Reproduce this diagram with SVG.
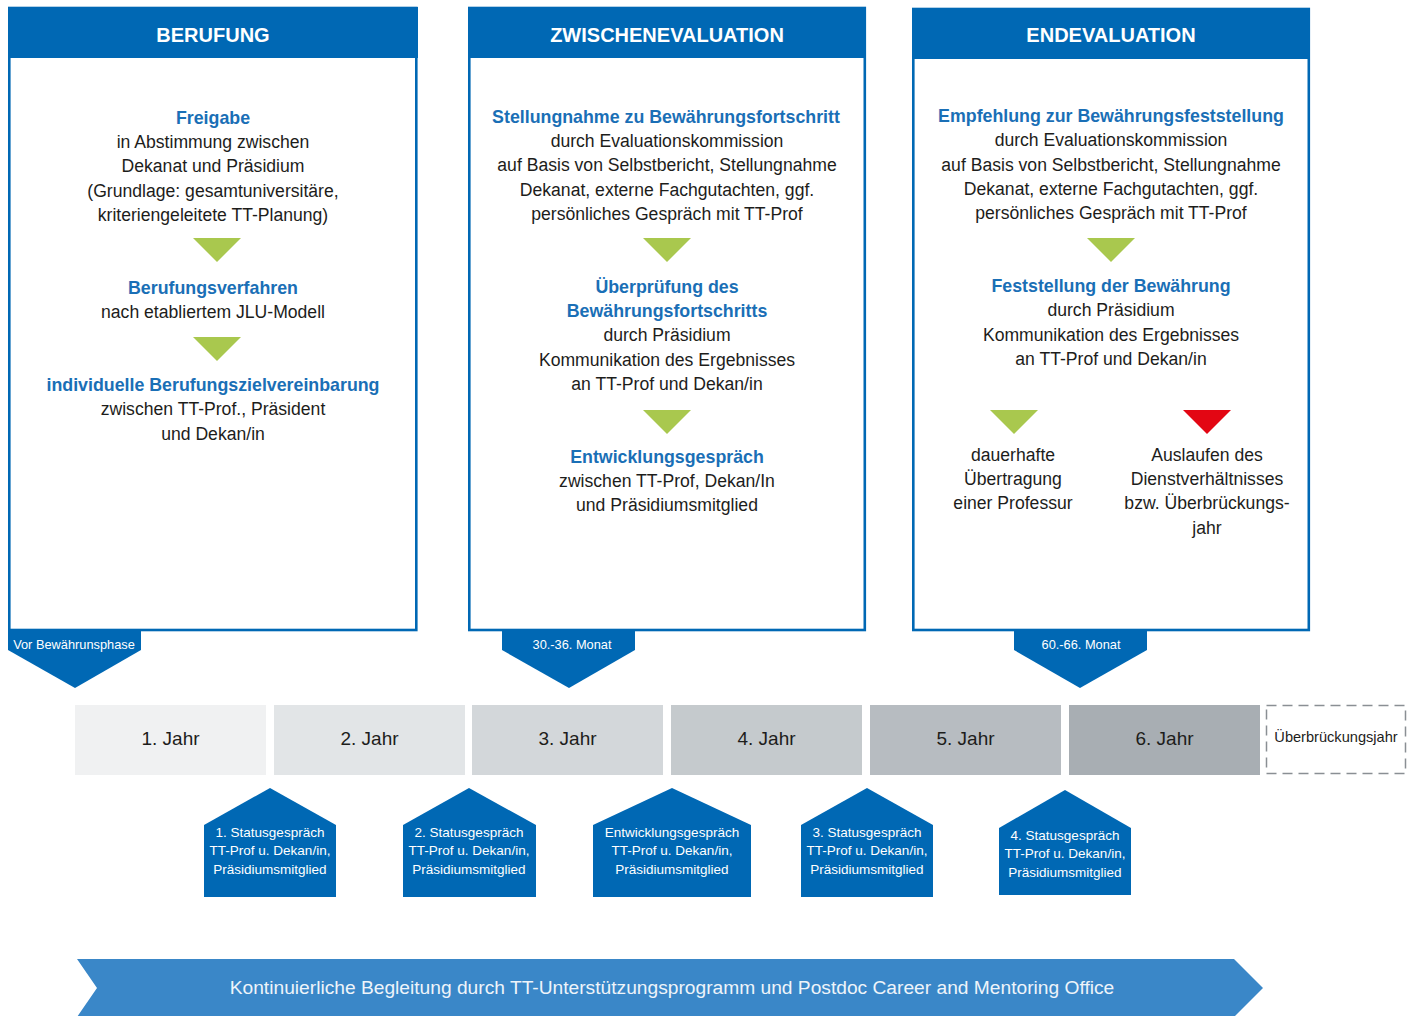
<svg xmlns="http://www.w3.org/2000/svg" width="1415" height="1016" viewBox="0 0 1415 1016">
<style>
text{font-family:"Liberation Sans",Arial,sans-serif;text-anchor:middle}
.hd{font-size:20px;font-weight:bold;fill:#fff}
.b{font-size:17.8px;font-weight:bold;fill:#1a6fb6}
.t{font-size:17.6px;fill:#1d1d1b}
.box{fill:#fff;stroke:#0068b4;stroke-width:2.6}
.hdr{fill:#0068b4}
.pent{fill:#0068b4}
.pt{font-size:12.8px;fill:#fff}
.yr{font-size:19px;fill:#1d1d1b}
.gr{fill:#a9c84e}
.rd{fill:#e30613}
.house{fill:#0068b4}
.ht{font-size:13.5px;fill:#fff}
</style>
<g id="berufung">
<rect class="box" x="9.3" y="8" width="407" height="622"/>
<rect class="hdr" x="8" y="7" width="410" height="51"/>
<text class="hd" x="213" y="42">BERUFUNG</text>
<text class="b" x="213" y="124">Freigabe</text>
<text class="t" x="213" y="148">in Abstimmung zwischen</text>
<text class="t" x="213" y="172">Dekanat und Präsidium</text>
<text class="t" x="213" y="197">(Grundlage: gesamtuniversitäre,</text>
<text class="t" x="213" y="221">kriteriengeleitete TT-Planung)</text>
<polygon class="gr" points="193,238 241,238 217,262"/>
<text class="b" x="213" y="294">Berufungsverfahren</text>
<text class="t" x="213" y="318">nach etabliertem JLU-Modell</text>
<polygon class="gr" points="193,337 241,337 217,361"/>
<text class="b" x="213" y="391">individuelle Berufungszielvereinbarung</text>
<text class="t" x="213" y="415">zwischen TT-Prof., Präsident</text>
<text class="t" x="213" y="440">und Dekan/in</text>
</g>
<g id="zwischenevaluation">
<rect class="box" x="469.3" y="8" width="395.5" height="622"/>
<rect class="hdr" x="468" y="7" width="398" height="51"/>
<text class="hd" x="667" y="42">ZWISCHENEVALUATION</text>
<text class="b" x="666" y="123">Stellungnahme zu Bewährungsfortschritt</text>
<text class="t" x="667" y="147">durch Evaluationskommission</text>
<text class="t" x="667" y="171">auf Basis von Selbstbericht, Stellungnahme</text>
<text class="t" x="667" y="196">Dekanat, externe Fachgutachten, ggf.</text>
<text class="t" x="667" y="220">persönliches Gespräch mit TT-Prof</text>
<polygon class="gr" points="643,238 691,238 667,262"/>
<text class="b" x="667" y="293">Überprüfung des</text>
<text class="b" x="667" y="317">Bewährungsfortschritts</text>
<text class="t" x="667" y="341">durch Präsidium</text>
<text class="t" x="667" y="366">Kommunikation des Ergebnisses</text>
<text class="t" x="667" y="390">an TT-Prof und Dekan/in</text>
<polygon class="gr" points="643,410 691,410 667,434"/>
<text class="b" x="667" y="463">Entwicklungsgespräch</text>
<text class="t" x="667" y="487">zwischen TT-Prof, Dekan/In</text>
<text class="t" x="667" y="511">und Präsidiumsmitglied</text>
</g>
<g id="endevaluation">
<rect class="box" x="913.3" y="9" width="395.5" height="621"/>
<rect class="hdr" x="912" y="8" width="398" height="51"/>
<text class="hd" x="1111" y="42">ENDEVALUATION</text>
<text class="b" x="1111" y="122">Empfehlung zur Bewährungsfeststellung</text>
<text class="t" x="1111" y="146">durch Evaluationskommission</text>
<text class="t" x="1111" y="171">auf Basis von Selbstbericht, Stellungnahme</text>
<text class="t" x="1111" y="195">Dekanat, externe Fachgutachten, ggf.</text>
<text class="t" x="1111" y="219">persönliches Gespräch mit TT-Prof</text>
<polygon class="gr" points="1087,238 1135,238 1111,262"/>
<text class="b" x="1111" y="292">Feststellung der Bewährung</text>
<text class="t" x="1111" y="316">durch Präsidium</text>
<text class="t" x="1111" y="341">Kommunikation des Ergebnisses</text>
<text class="t" x="1111" y="365">an TT-Prof und Dekan/in</text>
<polygon class="gr" points="990,410 1038,410 1014,434"/>
<polygon class="rd" points="1183,410 1231,410 1207,434"/>
<text class="t" x="1013" y="461">dauerhafte</text>
<text class="t" x="1013" y="485">Übertragung</text>
<text class="t" x="1013" y="509">einer Professur</text>
<text class="t" x="1207" y="461">Auslaufen des</text>
<text class="t" x="1207" y="485">Dienstverhältnisses</text>
<text class="t" x="1207" y="509">bzw. Überbrückungs-</text>
<text class="t" x="1207" y="534">jahr</text>
</g>
<g id="marker-vor">
<polygon class="pent" points="8,631 141,631 141,650 75,688 8,650"/>
<text class="pt" x="74" y="649">Vor Bewährunsphase</text>
</g>
<g id="marker-30">
<polygon class="pent" points="502,631 635,631 635,650 569,688 502,650"/>
<text class="pt" x="572" y="649">30.-36. Monat</text>
</g>
<g id="marker-60">
<polygon class="pent" points="1014,631 1147,631 1147,650 1080,688 1014,650"/>
<text class="pt" x="1081" y="649">60.-66. Monat</text>
</g>
<g id="jahr1"><rect x="75" y="705" width="191" height="70" fill="#f0f1f2"/><text class="yr" x="170.5" y="745">1. Jahr</text></g>
<g id="jahr2"><rect x="274" y="705" width="191" height="70" fill="#e2e5e7"/><text class="yr" x="369.5" y="745">2. Jahr</text></g>
<g id="jahr3"><rect x="472" y="705" width="191" height="70" fill="#d3d7da"/><text class="yr" x="567.5" y="745">3. Jahr</text></g>
<g id="jahr4"><rect x="671" y="705" width="191" height="70" fill="#c5cacd"/><text class="yr" x="766.5" y="745">4. Jahr</text></g>
<g id="jahr5"><rect x="870" y="705" width="191" height="70" fill="#b7bcc1"/><text class="yr" x="965.5" y="745">5. Jahr</text></g>
<g id="jahr6"><rect x="1069" y="705" width="191" height="70" fill="#a8aeb3"/><text class="yr" x="1164.5" y="745">6. Jahr</text></g>
<g id="ueberbrueckungsjahr">
<rect x="1266.5" y="705.5" width="139" height="68" fill="none" stroke="#8a8f94" stroke-width="1.5" stroke-dasharray="10,6"/>
<text x="1336" y="742" style="font-size:14.6px;fill:#1d1d1b">Überbrückungsjahr</text>
</g>
<g id="status1">
<polygon class="house" points="270,788 336,825 336,897 204,897 204,825"/>
<text class="ht" x="270" y="837">1. Statusgespräch</text>
<text class="ht" x="270" y="855">TT-Prof u. Dekan/in,</text>
<text class="ht" x="270" y="874">Präsidiumsmitglied</text>
</g>
<g id="status2">
<polygon class="house" points="469,788 536,825 536,897 403,897 403,825"/>
<text class="ht" x="469" y="837">2. Statusgespräch</text>
<text class="ht" x="469" y="855">TT-Prof u. Dekan/in,</text>
<text class="ht" x="469" y="874">Präsidiumsmitglied</text>
</g>
<g id="entwicklung">
<polygon class="house" points="672,788 751,825 751,897 593,897 593,825"/>
<text class="ht" x="672" y="837">Entwicklungsgespräch</text>
<text class="ht" x="672" y="855">TT-Prof u. Dekan/in,</text>
<text class="ht" x="672" y="874">Präsidiumsmitglied</text>
</g>
<g id="status3">
<polygon class="house" points="867,788 933,825 933,897 801,897 801,825"/>
<text class="ht" x="867" y="837">3. Statusgespräch</text>
<text class="ht" x="867" y="855">TT-Prof u. Dekan/in,</text>
<text class="ht" x="867" y="874">Präsidiumsmitglied</text>
</g>
<g id="status4">
<polygon class="house" points="1065,790 1131,828 1131,895 999,895 999,828"/>
<text class="ht" x="1065" y="840">4. Statusgespräch</text>
<text class="ht" x="1065" y="858">TT-Prof u. Dekan/in,</text>
<text class="ht" x="1065" y="877">Präsidiumsmitglied</text>
</g>
<g id="begleitung">
<polygon points="77,959 1234,959 1263,988 1234,1017 77,1017 97,988" fill="#3a87c8"/>
<text x="672" y="994" style="font-size:19.2px;fill:#eef4fa">Kontinuierliche Begleitung durch TT-Unterstützungsprogramm und Postdoc Career and Mentoring Office</text>
</g>
<g id="connectors"/>
</svg>
